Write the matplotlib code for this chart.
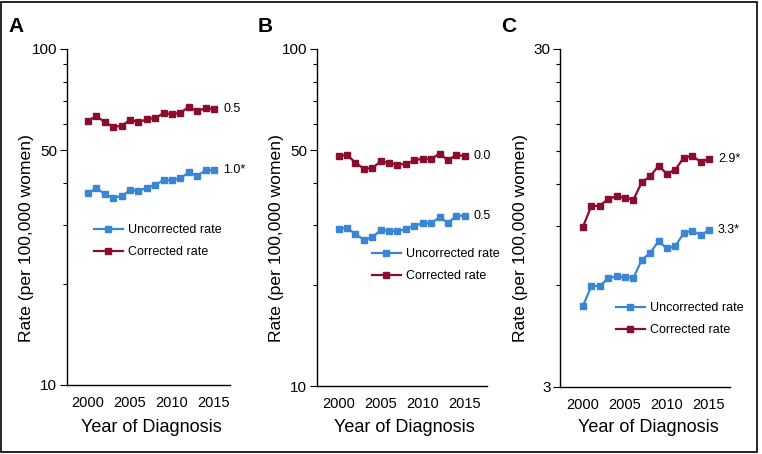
import matplotlib
matplotlib.use("Agg")
import matplotlib.pyplot as plt
from matplotlib.patches import Rectangle
from matplotlib.ticker import FixedLocator, NullFormatter
import numpy as np

plt.rcParams["font.family"] = ["Liberation Sans", "DejaVu Sans"]

years = np.arange(2000, 2016)

# panel A
a_uncorr = [37.2, 38.5, 37.0, 36.1, 36.5, 38.0, 37.8, 38.7, 39.4, 40.7, 40.7, 41.2, 43.0, 41.9, 43.6, 43.6]
a_corr = [61.2, 63.1, 60.6, 58.7, 59.0, 61.5, 60.6, 61.8, 62.3, 64.4, 64.0, 64.6, 67.3, 65.3, 66.7, 66.3]
# panel B
b_uncorr = [29.2, 29.5, 28.2, 27.2, 27.6, 29.0, 28.9, 28.8, 29.2, 29.9, 30.4, 30.4, 31.7, 30.5, 32.0, 32.0]
b_corr = [48.1, 48.5, 46.0, 44.1, 44.3, 46.4, 45.9, 45.4, 45.6, 46.7, 47.3, 47.2, 48.9, 46.8, 48.5, 48.1]
# panel C
c_uncorr = [5.21, 5.97, 5.97, 6.29, 6.38, 6.34, 6.31, 7.13, 7.49, 8.09, 7.71, 7.84, 8.56, 8.71, 8.44, 8.73]
c_corr = [8.94, 10.3, 10.3, 10.8, 11.0, 10.9, 10.75, 12.1, 12.6, 13.55, 12.8, 13.2, 14.3, 14.5, 13.9, 14.2]

panel_letters = ["A", "B", "C"]
apc_uncorr = ["1.0*", "0.5", "3.3*"]
apc_corr = ["0.5", "0.0", "2.9*"]
y_ticks = [[10, 50, 100], [10, 50, 100], [3, 30]]
y_minor = [[20, 30, 40, 60, 70, 80, 90], [20, 30, 40, 60, 70, 80, 90],
           [6, 9, 12, 15, 18, 21, 24, 27]]
x_ticks = [2000, 2005, 2010, 2015]

BLUE = "#3a86d4"
RED = "#8a0d2e"
W, H = 762, 454

# pixel layout: left, right, top, bottom
boxes = [(67, 230, 49, 385), (316.7, 486.7, 49, 386), (560.3, 730, 49, 387)]
xlims = [(1997.5, 2016.9), (1997.4, 2017.6), (1997.3, 2017.5)]
ylims = [(10, 100), (10, 100), (3, 30)]
legend_pos = [(94, 241), (372, 265.5), (616, 319.3)]

fig = plt.figure(figsize=(W / 100, H / 100), dpi=100)
fig.patch.set_facecolor("white")
fig.patches.append(Rectangle((1 / W, 1 - 452 / H), 756 / W, 450 / H, transform=fig.transFigure,
                             fill=False, edgecolor="black", lw=1.2))

data = [(a_uncorr, a_corr), (b_uncorr, b_corr), (c_uncorr, c_corr)]
for i, (unc, cor) in enumerate(data):
    l, r, t, b = boxes[i]
    ax = fig.add_axes([l / W, 1 - b / H, (r - l) / W, (b - t) / H])
    ax.plot(years, unc, "-s", color=BLUE, lw=1.6, ms=4.5, label="Uncorrected rate")
    ax.plot(years, cor, "-s", color=RED, lw=1.6, ms=4.5, label="Corrected rate")
    ax.set_yscale("log")
    ax.set_ylim(*ylims[i])
    ax.set_xlim(*xlims[i])
    ax.yaxis.set_major_locator(FixedLocator(y_ticks[i]))
    ax.set_yticklabels([str(v) for v in y_ticks[i]])
    ax.yaxis.set_minor_locator(FixedLocator(y_minor[i]))
    ax.yaxis.set_minor_formatter(NullFormatter())
    ax.set_xticks(x_ticks)
    ax.tick_params(axis="y", which="major", length=5, width=0.8, labelsize=11, pad=2)
    ax.tick_params(axis="y", which="minor", length=3, width=0.8)
    ax.tick_params(axis="x", length=0, labelsize=10.5, pad=8)
    for s in ["top", "right"]:
        ax.spines[s].set_visible(False)
    for s in ["left", "bottom"]:
        ax.spines[s].set_linewidth(1.0)
    ax.patch.set_alpha(0)

    ax.annotate(apc_uncorr[i], (years[-1], unc[-1]), xytext=(6.5, 0), textcoords="offset points",
                va="center", ha="left", fontsize=9)
    ax.annotate(apc_corr[i], (years[-1], cor[-1]), xytext=(6.5, 0), textcoords="offset points",
                va="center", ha="left", fontsize=9)

    lx, ly = legend_pos[i]
    ax.legend(loc="center left", bbox_to_anchor=((lx - l) / (r - l), (b - ly) / (b - t)),
              frameon=False, fontsize=9, handlelength=2.3, handletextpad=0.45,
              borderpad=0, borderaxespad=0, labelspacing=0.8)

    cx = (l + r) / 2
    fig.text((cx + 3) / W, 1 - 427 / H, "Year of Diagnosis", ha="center", va="center",
             fontsize=13)
    fig.text((l - 40) / W, 1 - 238 / H, "Rate (per 100,000 women)", ha="center", va="center",
             rotation=90, fontsize=12.6)
    fig.text((l - 59) / W, 1 - 27 / H, panel_letters[i], ha="left", va="center",
             fontsize=15, fontweight="bold")

fig.savefig("out.png", dpi=100)
